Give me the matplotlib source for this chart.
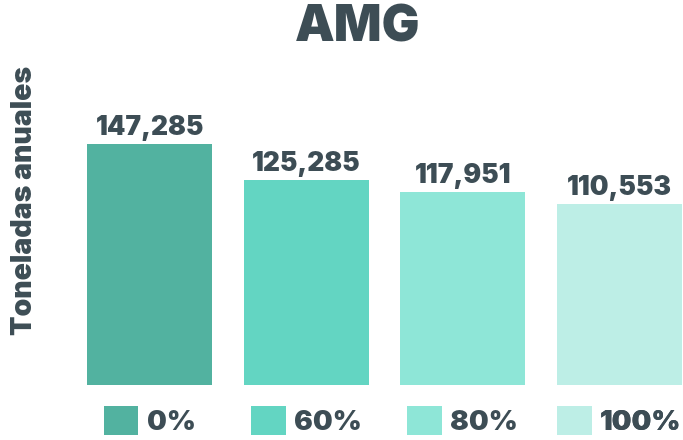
import matplotlib.pyplot as plt

# data
escenarios = ['0%', '60%', '80%', '100%']
toneladas = [147285, 125285, 117951, 110553]
colores = ['#52b2a0', '#63d5c2', '#8ee6d7', '#bdeee6']

texto = '#3d4d55'

plt.rcParams['font.family'] = ['Inter', 'DejaVu Sans']
plt.rcParams['font.weight'] = 900

fig = plt.figure(figsize=(6.83, 4.4), dpi=100)
ax = fig.add_axes([87 / 683, 55 / 440, 595 / 683, 285 / 440])

x = range(len(escenarios))
bars = ax.bar(x, toneladas, width=0.8, color=colores)
ax.set_xlim(-0.4, 3.4)
ax.set_ylim(0, 174177)
ax.bar_label(bars, labels=['{:,}'.format(v) for v in toneladas], padding=2,
             fontsize=19, color=texto, fontweight=900)
ax.axis('off')

# one legend item centred under each bar
for i, b in enumerate(bars):
    leg = ax.legend([b], [escenarios[i]], loc='upper center',
                    bbox_to_anchor=((i + 0.4) / 3.8, -0.072),
                    frameon=False, fontsize=20, handlelength=1.25, handleheight=1.25,
                    handletextpad=0.3, borderpad=0, borderaxespad=0)
    for t in leg.get_texts():
        t.set_color(texto)
        t.set_fontweight(900)
    ax.add_artist(leg)

fig.text(358 / 683, 1 - 28 / 440, 'AMG', ha='center', va='center',
         fontsize=36, color=texto, fontweight=900)
fig.text(25 / 683, 1 - 200 / 440, 'Toneladas anuales', rotation=90,
         ha='center', va='center', fontsize=20.5, color=texto, fontweight=900)

fig.savefig('out.png', dpi=100)
